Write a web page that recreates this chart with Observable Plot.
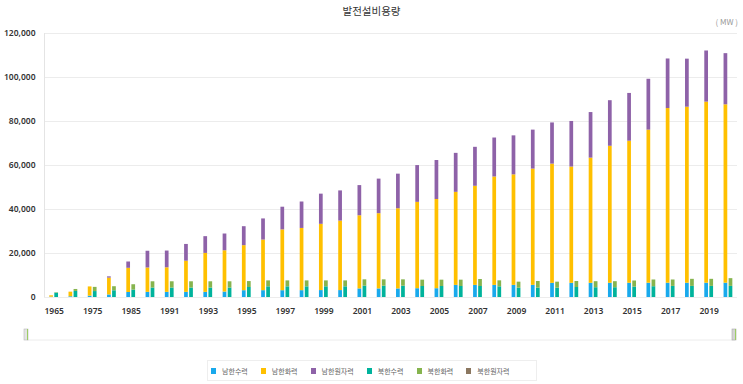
<!DOCTYPE html>
<html><head><meta charset="utf-8">
<script src="https://cdn.jsdelivr.net/npm/d3@7"></script>
<script src="https://cdn.jsdelivr.net/npm/@observablehq/plot@0.6"></script>
<style>
body{margin:0;background:#fff;font-family:"Noto Sans CJK KR","Noto Sans",sans-serif;}
#wrap{position:relative;width:743px;height:384px;overflow:hidden;}
#title{position:absolute;top:3px;left:0;width:743px;text-align:center;font-size:10.5px;color:#333;}
#unit{position:absolute;top:16px;right:5px;font-size:8px;color:#999;}
#chart{position:absolute;top:0;left:0;}
#nav{position:absolute;top:326px;left:0;}
#legend{position:absolute;top:360px;left:207px;width:330px;height:21px;border:1px solid #eee;box-sizing:border-box;display:flex;align-items:center;padding-left:3px;gap:13px;}
.item{display:flex;align-items:center;gap:6px;font-size:7px;color:#666;white-space:nowrap;}
.sw{width:5px;height:6px;display:inline-block;}
</style></head>
<body>
<div id="wrap">
  <div id="title">발전설비용량</div>
  <div id="unit">( MW )</div>
  <div id="chart"></div>
  <svg id="nav" width="743" height="20">
    <line x1="27" x2="735" y1="14" y2="14" stroke="#ececec"/>
    <rect x="24" y="3" width="4" height="11" fill="#e4e4e4" stroke="#b8b8b8" stroke-width="0.6"/>
    <line x1="27.5" x2="27.5" y1="3" y2="14" stroke="#9ccc65" stroke-width="1"/>
    <rect x="732" y="3" width="4" height="11" fill="#d4d4d4" stroke="#a8a8a8" stroke-width="0.6"/>
    <line x1="735.5" x2="735.5" y1="3" y2="14" stroke="#9ccc65" stroke-width="1"/>
  </svg>
  <div id="legend"></div>
</div>
<script>
const years = ["1965","1970","1975","1980","1985","1990","1991","1992","1993","1994","1995","1996","1997","1998","1999","2000","2001","2002","2003","2004","2005","2006","2007","2008","2009","2010","2011","2012","2013","2014","2015","2016","2017","2018","2019","2020"];
const seriesNames = ["남한수력","남한화력","남한원자력","북한수력","북한화력","북한원자력"];
const seriesColors = ["#19a9ec","#ffc000","#8e62a8","#00b39c","#86b44e","#8b7760"];
const southHydro = [143,330,620,1157,2270,2340,2340,2340,2340,2470,3093,3103,3093,3110,3149,3149,3900,3900,3900,4000,4000,5500,5500,5505,5515,5525,6430,6446,6450,6470,6470,6480,6490,6490,6500,6500];
const southThermal = [626,2100,4190,7647,11000,11065,11160,14160,17700,18770,20475,22996,27633,28280,30113,31586,33250,34200,36450,39250,40550,42300,45050,49270,50240,52840,54200,52850,56900,62270,64570,69600,79400,80000,82300,81090];
const southNuclear = [0,0,0,587,2866,7616,7616,7616,7616,7616,8616,9616,10316,12016,13716,13716,13716,15716,15716,16716,17716,17716,17716,17716,17716,17716,18716,20716,20716,20716,21716,23116,22529,21850,23250,23250];
const northHydro = [1950,2750,2700,3050,3360,4292,4292,4292,4292,4292,4545,4850,4850,4850,4850,4850,5150,5150,5150,5000,5000,5000,5000,4850,4240,4240,4240,4545,4440,4440,4740,4900,5050,5050,5050,5050];
const northThermal = [200,900,1900,1850,2440,2850,2850,2850,2850,2850,2700,2700,2700,2700,2700,2700,2880,2880,2880,2880,2880,2880,3180,2725,2730,3030,2730,2725,2750,2750,2760,3060,2910,3210,3210,3520];
const northNuclear = years.map(() => 0);
const yTicks = [0,20000,40000,60000,80000,100000,120000];

const groups = [
  {side: -1, series: [[seriesNames[0], southHydro],[seriesNames[1], southThermal],[seriesNames[2], southNuclear]]},
  {side: 1, series: [[seriesNames[3], northHydro],[seriesNames[4], northThermal],[seriesNames[5], northNuclear]]}
];
const rows = [];
years.forEach((yr, i) => {
  for (const g of groups) {
    let base = 0;
    for (const [name, vals] of g.series) {
      const v = vals[i];
      if (v > 0) {
        const a = i + g.side * 0.035, b = i + g.side * 0.228;
        rows.push({year: yr, series: name, x1: Math.min(a,b), x2: Math.max(a,b), y1: base, y2: base + v});
      }
      base += v;
    }
  }
});
const xDomain = [-0.5, 35.47];
const tickIdx = years.map((d,i)=>i).filter(i => i % 2 === 0);

const plot = Plot.plot({
  width: 743, height: 322,
  marginTop: 33, marginBottom: 25, marginLeft: 44, marginRight: 6,
  x: {domain: xDomain, ticks: tickIdx, tickFormat: i => years[i], tickSize: 0, tickPadding: 10, label: null},
  y: {domain: [0,120000], ticks: yTicks, tickFormat: d3.format(","), tickSize: 0, tickPadding: 9, label: null},
  color: {domain: seriesNames, range: seriesColors},
  style: {fontSize: "8.5px", fontFamily: "'Noto Sans', sans-serif", fontWeight: "600", color: "#333", background: "transparent"},
  marks: [
    Plot.ruleY(yTicks, {stroke: "#ececec"}),
    Plot.ruleX([xDomain[0]], {stroke: "#e4e4e4"}),
    Plot.rect(rows, {x1: "x1", x2: "x2", y1: "y1", y2: "y2", fill: "series"})
  ]
});
document.getElementById("chart").appendChild(plot);

const lg = document.getElementById("legend");
seriesNames.forEach((n, k) => {
  const it = document.createElement("div");
  it.className = "item";
  it.innerHTML = `<span class="sw" style="background:${seriesColors[k]}"></span><span>${n}</span>`;
  lg.appendChild(it);
});
</script>
</body></html>
